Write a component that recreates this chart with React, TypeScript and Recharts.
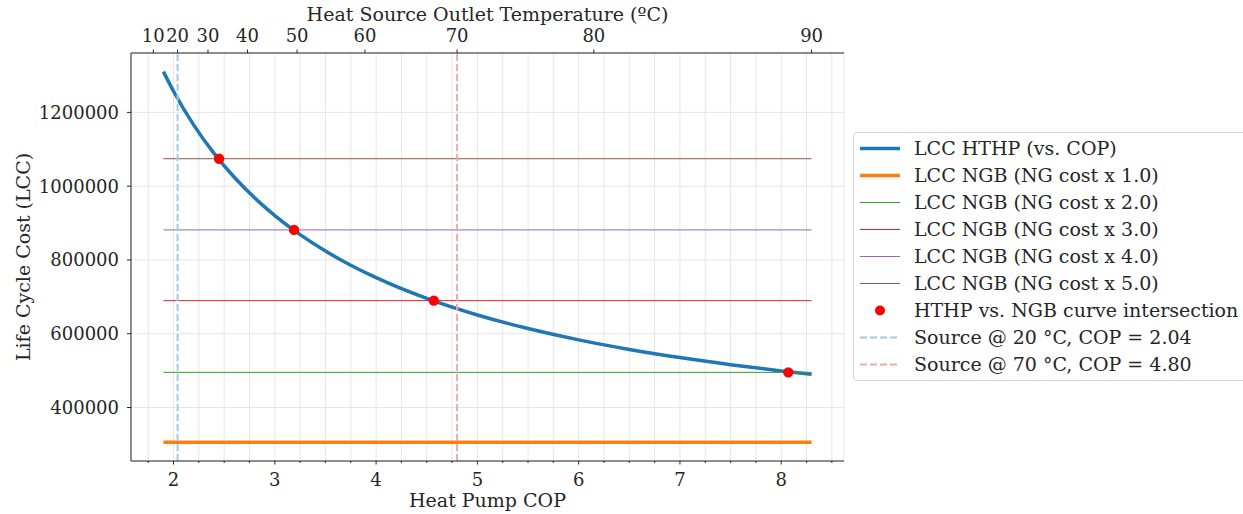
import React from 'react';
import {
  ComposedChart,
  Line,
  Scatter,
  XAxis,
  YAxis,
  CartesianGrid,
  ReferenceLine,
  Legend,
} from 'recharts';

// ---------------- data ----------------
const copPoints = [1.9, 2.0, 2.2, 2.4, 2.6, 2.8, 3.0, 3.25, 3.5, 3.75, 4.0, 4.5, 5.0, 5.5, 6.0, 6.5, 7.0, 7.5, 8.0, 8.3];
const hthpLcc = [1310600, 1257400, 1165500, 1088900, 1024100, 968500, 920400, 868600, 824100, 785600, 751900, 695700, 650800, 614000, 583400, 557500, 535300, 516000, 499200, 490000];

const ngbCopSpan = [1.9, 8.3];
const ngbFactors = ['1.0', '2.0', '3.0', '4.0', '5.0'];
const ngbLcc = [305500, 495300, 689700, 881400, 1074400];

const intersectCop = [2.45, 3.19, 4.57, 8.07];
const intersectLcc = [1074400, 881400, 689700, 495300];

const sourceTemps = [20, 70];
const sourceCop = [2.04, 4.8];

const copTicks = [1.75, 2, 2.25, 2.5, 2.75, 3, 3.25, 3.5, 3.75, 4, 4.25, 4.5, 4.75, 5, 5.25, 5.5, 5.75, 6, 6.25, 6.5, 6.75, 7, 7.25, 7.5, 7.75, 8, 8.25, 8.5];
const tempTickLabels = [10, 20, 30, 40, 50, 60, 70, 80, 90];
const tempTickCop = [1.8, 2.04, 2.34, 2.73, 3.22, 3.89, 4.8, 6.15, 8.3];
const lccTicks = [400000, 600000, 800000, 1000000, 1200000];

const copDomain = [1.58, 8.62];
const lccDomain = [255000, 1361000];

// ---------------- styles ----------------
const W = 1243;
const H = 514;
const FONT = '"DejaVu Serif", serif';
const TXT = '#262626';
const FS_TICK = 18;
const FS_LABEL = 19;
const HTHP_COLOR = '#1f77b4';
const NGB_COLORS = ['#ff7f0e', '#2ca02c', '#d62728', '#9467bd', '#8c564b'];
const NGB_WIDTHS = [3.5, 1, 1, 1, 1];
const DOT_COLOR = '#ff0000';
const SOURCE_COLORS = ['#a5c9e1', '#efa9a9'];
const GRID = '#e6e6e6';

const hthpData = copPoints.map((x, i) => ({ x, y: hthpLcc[i] }));
const ngbData = ngbLcc.map((v) => ngbCopSpan.map((x) => ({ x, y: v })));
const intersectData = intersectCop.map((x, i) => ({ x, y: intersectLcc[i] }));

const isMajor = (v: number) => Math.abs(v - Math.round(v)) < 1e-9;

const BottomTick = (props: any) => {
  const { x, y, payload } = props;
  const v = payload.value;
  const major = isMajor(v);
  return (
    <g>
      <line x1={x} x2={x} y1={y} y2={y + (major ? 3.5 : 2)} stroke={TXT} strokeWidth={1} />
      {major && (
        <text x={x} y={y + 24.5} textAnchor="middle" fontFamily={FONT} fontSize={FS_TICK} fill={TXT}>
          {String(v)}
        </text>
      )}
    </g>
  );
};

const TopTick = (props: any) => {
  const { x, y, payload } = props;
  const idx = tempTickCop.indexOf(payload.value);
  return (
    <g>
      <line x1={x} x2={x} y1={y} y2={y - 3.5} stroke={TXT} strokeWidth={1} />
      <text x={x} y={y - 11.5} textAnchor="middle" fontFamily={FONT} fontSize={FS_TICK} fill={TXT}>
        {String(tempTickLabels[idx])}
      </text>
    </g>
  );
};

const BottomLabel = (props: any) => {
  const vb = props.viewBox;
  return (
    <text x={vb.x + vb.width / 2} y={vb.y + 46} textAnchor="middle" fontFamily={FONT} fontSize={FS_LABEL} fill={TXT}>
      Heat Pump COP
    </text>
  );
};

const TopLabel = (props: any) => {
  const vb = props.viewBox;
  return (
    <text x={vb.x + vb.width / 2} y={vb.y + 21} textAnchor="middle" fontFamily={FONT} fontSize={FS_LABEL} fill={TXT}>
      Heat Source Outlet Temperature (ºC)
    </text>
  );
};

const LeftLabel = (props: any) => {
  const vb = props.viewBox;
  const cx = vb.x + 23;
  const cy = vb.y + vb.height / 2;
  return (
    <text
      x={cx}
      y={cy}
      transform={`rotate(-90, ${cx}, ${cy})`}
      textAnchor="middle"
      dominantBaseline="central"
      fontFamily={FONT}
      fontSize={FS_LABEL}
      fill={TXT}
    >
      Life Cycle Cost (LCC)
    </text>
  );
};

type LegendItem = { label: string; kind: 'line' | 'dot' | 'dash'; color: string; width?: number };

const legendItems: LegendItem[] = [
  { label: 'LCC HTHP (vs. COP)', kind: 'line', color: HTHP_COLOR, width: 3.5 },
  ...ngbFactors.map((f, i) => ({
    label: `LCC NGB (NG cost x ${f})`,
    kind: 'line' as const,
    color: NGB_COLORS[i],
    width: NGB_WIDTHS[i],
  })),
  { label: 'HTHP vs. NGB curve intersection', kind: 'dot', color: DOT_COLOR },
  ...sourceTemps.map((t, i) => ({
    label: `Source @ ${t} °C, COP = ${sourceCop[i].toFixed(2)}`,
    kind: 'dash' as const,
    color: SOURCE_COLORS[i],
    width: 2,
  })),
];

const LegendBox = () => (
  <div
    style={{
      boxSizing: 'border-box',
      width: 396,
      border: '1px solid #d4d4d4',
      borderRadius: 4,
      background: 'rgba(255,255,255,0.8)',
      padding: '2px 0 2px 0',
      fontFamily: FONT,
      fontSize: FS_LABEL,
      color: TXT,
    }}
  >
    {legendItems.map((it, i) => (
      <div key={i} style={{ display: 'flex', alignItems: 'center', height: 27, whiteSpace: 'nowrap' }}>
        <svg width={40} height={27} style={{ marginLeft: 6, marginRight: 14, flex: 'none' }}>
          {it.kind === 'line' && (
            <line x1={0} x2={40} y1={13.5} y2={13.5} stroke={it.color} strokeWidth={it.width} />
          )}
          {it.kind === 'dash' && (
            <line x1={0} x2={40} y1={13.5} y2={13.5} stroke={it.color} strokeWidth={it.width} strokeDasharray="7 3" />
          )}
          {it.kind === 'dot' && <circle cx={20} cy={13.5} r={5} fill={it.color} />}
        </svg>
        <span style={{ lineHeight: '27px' }}>{it.label}</span>
      </div>
    ))}
  </div>
);

const DotShape = (props: any) => <circle cx={props.cx} cy={props.cy} r={5.2} fill={DOT_COLOR} />;

export default function App() {
  return (
    <div style={{ position: 'absolute', left: 0, top: 0, width: W, height: H, overflow: 'hidden', background: '#fff' }}>
      <ComposedChart width={W} height={H} margin={{ top: 0, right: 399, bottom: 0, left: 0 }}>
        <CartesianGrid xAxisId="cop" yAxisId="lcc" stroke={GRID} strokeWidth={1} />
        <XAxis
          xAxisId="cop"
          dataKey="x"
          type="number"
          orientation="bottom"
          domain={copDomain}
          ticks={copTicks}
          interval={0}
          allowDataOverflow
          height={53}
          tickSize={0}
          tickMargin={0}
          tickLine={false}
          tick={<BottomTick />}
          axisLine={{ stroke: TXT, strokeWidth: 1 }}
          label={<BottomLabel />}
        />
        <XAxis
          xAxisId="temp"
          dataKey="x"
          type="number"
          orientation="top"
          domain={copDomain}
          ticks={tempTickCop}
          interval={0}
          allowDataOverflow
          height={53}
          tickSize={0}
          tickMargin={0}
          tickLine={false}
          tick={<TopTick />}
          axisLine={{ stroke: TXT, strokeWidth: 1 }}
          label={<TopLabel />}
        />
        <YAxis
          yAxisId="lcc"
          dataKey="y"
          type="number"
          domain={lccDomain}
          ticks={lccTicks}
          interval={0}
          allowDataOverflow
          width={131}
          tickSize={4}
          tickMargin={8}
          tickLine={{ stroke: TXT }}
          axisLine={{ stroke: TXT, strokeWidth: 1 }}
          tick={{ fontFamily: FONT, fontSize: FS_TICK, fill: TXT }}
          label={<LeftLabel />}
        />
        <YAxis
          yAxisId="lccRight"
          orientation="right"
          type="number"
          domain={lccDomain}
          allowDataOverflow
          width={0}
          tick={false}
          tickLine={false}
          axisLine={{ stroke: TXT, strokeWidth: 1 }}
        />
        <Line
          xAxisId="cop"
          yAxisId="lcc"
          data={hthpData}
          dataKey="y"
          type="monotone"
          stroke={HTHP_COLOR}
          strokeWidth={3.5}
          dot={false}
          activeDot={false}
          isAnimationActive={false}
        />
        {ngbData.map((d, i) => (
          <Line
            key={i}
            xAxisId="cop"
            yAxisId="lcc"
            data={d}
            dataKey="y"
            type="linear"
            stroke={NGB_COLORS[i]}
            strokeWidth={NGB_WIDTHS[i]}
            dot={false}
            activeDot={false}
            isAnimationActive={false}
          />
        ))}
        <Scatter
          xAxisId="cop"
          yAxisId="lcc"
          data={intersectData}
          dataKey="y"
          shape={<DotShape />}
          isAnimationActive={false}
        />
        {sourceCop.map((c, i) => (
          <ReferenceLine
            key={i}
            xAxisId="cop"
            yAxisId="lcc"
            x={c}
            stroke={SOURCE_COLORS[i]}
            strokeWidth={2}
            strokeDasharray="7 3"
          />
        ))}
        <Legend
          layout="vertical"
          align="center"
          verticalAlign="middle"
          content={<LegendBox />}
          wrapperStyle={{ left: 853, top: 132, width: 396 }}
        />
      </ComposedChart>
    </div>
  );
}
